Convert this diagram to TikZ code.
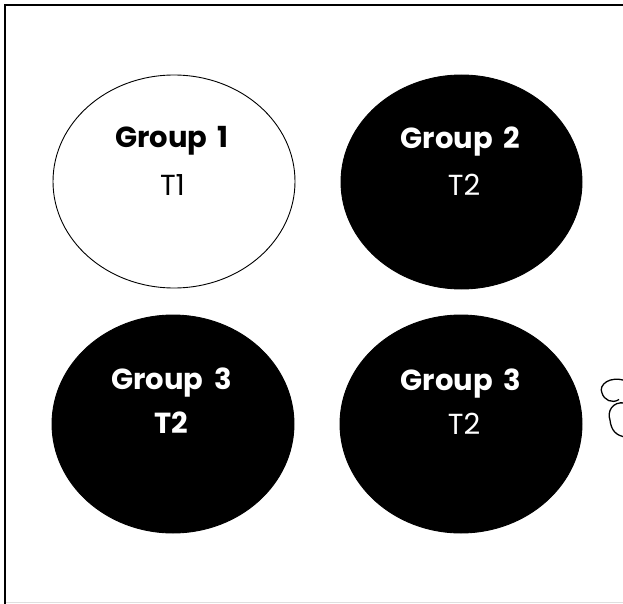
\documentclass[tikz,border=0pt]{standalone}
\usepackage{fontspec}
\setmainfont{Poppins}
\usetikzlibrary{shapes.geometric}
\tikzset{
  grp/.style={ellipse, draw=black, line width=0.9pt, inner sep=0pt},
  whitegrp/.style={grp, fill=white},
  blackgrp/.style={grp, fill=black},
  lbl/.style={anchor=base, inner sep=0pt, font=\fontsize{29}{35}\selectfont},
  lblw/.style={lbl, text=white},
  lbldark/.style={lbl, text=black},
  cloudline/.style={black, line width=1.3pt}
}
\begin{document}
\begin{tikzpicture}[x=1pt,y=-1pt]
\useasboundingbox (0,0) rectangle (623,604);
\clip (0,0) rectangle (623,604);
\fill[white] (0,0) rectangle (623,604);
% frame
\draw[gray!25, line width=1pt] (5,602.5) -- (640,602.5);
\draw[black, line width=1.8pt] (5,640) -- (5,5) -- (640,5);
% groups
\node[whitegrp, minimum width=242pt, minimum height=213pt] (g1) at (174,181.5) {};
\node[blackgrp, minimum width=241pt, minimum height=214pt] (g2) at (461.5,182) {};
\node[blackgrp, minimum width=242pt, minimum height=218pt] (g3) at (173,424) {};
\node[blackgrp, minimum width=242pt, minimum height=218pt] (g4) at (461,424) {};
% labels
\node[lbldark] (g1a) at (172,148) {\bfseries Group\hspace{0.15em} 1};
\node[lbldark] (g1b) at (172.5,195) {T1};
\node[lblw] (g2a) at (460.5,149) {\bfseries Group\hspace{0.15em} 2};
\node[lblw] (g2b) at (464,195) {T2};
\node[lblw] (g3a) at (171.5,389) {\bfseries Group\hspace{0.15em} 3};
\node[lblw] (g3b) at (171.5,433) {\bfseries T2};
\node[lblw] (g4a) at (461,390) {\bfseries Group\hspace{0.15em} 3};
\node[lblw] (g4b) at (464,434) {T2};
% cloud fragment
\draw[cloudline] (626,381) .. controls (610,375) and (598,385) .. (602,393)
  .. controls (604,400) and (612,404) .. (619,399.5);
\draw[cloudline] (625,403) .. controls (612,401) and (607,412) .. (610,420)
  .. controls (611,430) and (616,436) .. (626,437);
\end{tikzpicture}
\end{document}
